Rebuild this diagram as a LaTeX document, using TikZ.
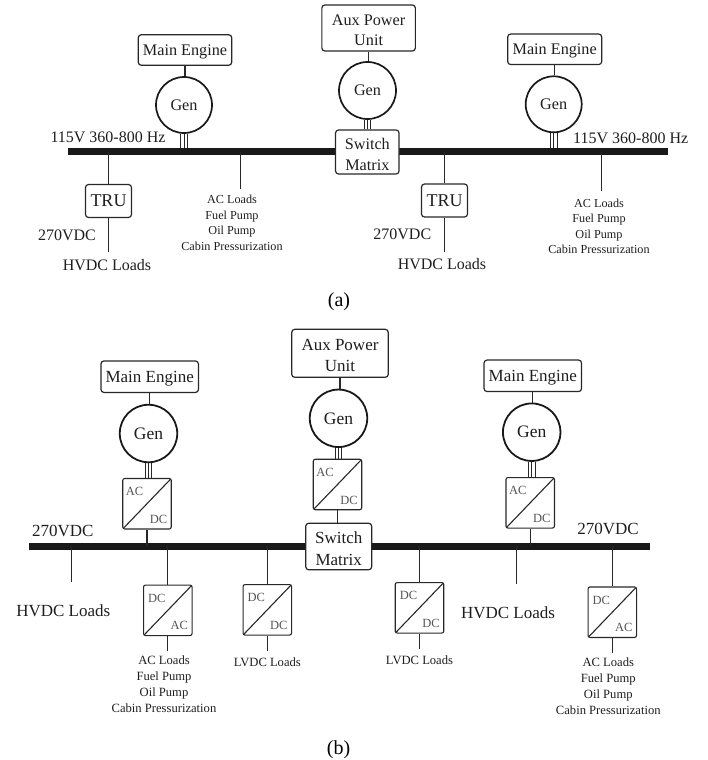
\documentclass[tikz,border=0pt]{standalone}
\usepackage{fontspec}
\setmainfont{Liberation Serif}
\usetikzlibrary{positioning, calc}
\definecolor{inkline}{RGB}{40, 40, 40}
\definecolor{inktext}{RGB}{30, 30, 30}
\definecolor{convtext}{RGB}{85, 85, 85}
\tikzstyle{block} = [rectangle, draw=inkline, text=inktext, rounded corners=3pt, align=center, inner sep=0pt, line width=1.2pt, text depth=0pt, font=\fontsize{16.2}{20.5}\selectfont]
\tikzstyle{blockb} = [block, font=\fontsize{17}{21.5}\selectfont]
\tikzstyle{gen} = [circle, draw=black!90, text=inktext, minimum size=56pt, inner sep=0pt, line width=1.7pt, font=\fontsize{16.2}{20}\selectfont]
\tikzstyle{genb} = [gen, minimum size=57.5pt, line width=1.8pt, font=\fontsize{17.5}{20}\selectfont]
\tikzstyle{bus} = [rectangle, fill=black!90, inner sep=0pt, minimum height=7pt]
\tikzstyle{conv} = [rectangle, draw=inkline, rounded corners=2pt, minimum width=48.5pt, minimum height=50.5pt, inner sep=0pt, line width=1.1pt, path picture={\draw[inkline, line width=1.1pt] (path picture bounding box.south west) -- (path picture bounding box.north east);}]
\tikzstyle{upperlabel} = [text=convtext, xshift=-12.5pt, yshift=12pt, font=\fontsize{12.5}{14}\selectfont]
\tikzstyle{lowerlabel} = [text=convtext, xshift=11.5pt, yshift=-15.5pt, font=\fontsize{12.5}{14}\selectfont]
\tikzstyle{wire} = [draw=inkline, line width=1.2pt]
\tikzstyle{thinwire} = [draw=inkline, line width=0.8pt]
\tikzstyle{caption} = [text=inktext, inner sep=0pt, font=\fontsize{16}{20}\selectfont]
\tikzstyle{captionb} = [caption, font=\fontsize{17}{20}\selectfont]
\tikzstyle{loads} = [text=inktext, align=center, inner sep=0pt, font=\fontsize{12.2}{15.5}\selectfont]
\tikzstyle{loadsb} = [loads, font=\fontsize{12.6}{16}\selectfont]
\tikzstyle{subfig} = [text=black, inner sep=0pt, font=\fontsize{20}{22}\selectfont]
\newcommand{\threephase}[2]{
    \draw[thinwire] ([xshift=-3.2pt]#1.south) -- ([xshift=-3.2pt]#1.south |- #2.north);
    \draw[thinwire] (#1.south) -- (#1.south |- #2.north);
    \draw[thinwire] ([xshift=3.2pt]#1.south) -- ([xshift=3.2pt]#1.south |- #2.north);
}
\begin{document}
\begin{tikzpicture}[x=1pt, y=-1pt]
    \useasboundingbox (0,0) rectangle (708,760);

    % (a) Bus
    \node[bus, minimum width=599.5pt] (busa) at (368.2, 151.7) {};

    % (a) Sources
    \node[block, minimum width=93.5pt, minimum height=30.5pt] (enginea) at (185, 50) {Main Engine};
    \node[gen] (gena) at (184, 105) {Gen};
    \node[block, minimum width=93.5pt, minimum height=46pt] (auxa) at (368.6, 28) {Aux Power\\Unit\vspace{-4pt}};
    \node[gen, minimum size=57pt] (genauxa) at (367.5, 90.5) {Gen};
    \node[block, fill=white, minimum width=63.5pt, minimum height=44pt, font=\fontsize{16.2}{21}\selectfont] (switcha) at (367.3, 152) {Switch\\Matrix\vspace{-5pt}};
    \node[block, minimum width=94pt, minimum height=30.5pt] (engineb) at (554.7, 49.3) {Main Engine};
    \node[gen] (genb) at (553.7, 104.3) {Gen};

    % (a) Rectifiers
    \node[block, minimum width=46pt, minimum height=33pt, font=\fontsize{18}{20}\selectfont] (trua) at (108.5, 201) {TRU};
    \node[block, minimum width=46pt, minimum height=33pt, font=\fontsize{18}{20}\selectfont] (trub) at (444.5, 200.5) {TRU};

    % (a) Labels
    \node[caption] (acbusa) at (108, 137) {115V 360-800 Hz};
    \node[caption] (acbusb) at (630.7, 138) {115V 360-800 Hz};
    \node[caption] (vdca) at (67, 235) {270VDC};
    \node[caption] (vdcb) at (402.3, 234) {270VDC};
    \node[caption] (hvdca) at (107, 265.5) {HVDC Loads};
    \node[caption] (hvdcb) at (442, 264.5) {HVDC Loads};
    \node[loads] (acloada) at (232, 223) {AC Loads\\Fuel Pump\\Oil Pump\\Cabin Pressurization};
    \node[loads] (acloadb) at (599, 226.5) {AC Loads\\Fuel Pump\\Oil Pump\\Cabin Pressurization};
    \node[subfig] (capa) at (339, 301.5) {(a)};

    % (a) Free ends
    \coordinate (enda) at (108.5, 252);
    \coordinate (endb) at (444.5, 251.5);
    \coordinate (endc) at (240.5, 189);
    \coordinate (endd) at (601.7, 190.5);

    % (a) Connectors
    \draw[wire] (enginea.south) -- (enginea.south |- gena.north);
    \draw[wire] (auxa.south) -- (auxa.south |- genauxa.north);
    \draw[wire] (engineb.south) -- (engineb.south |- genb.north);
    \threephase{gena}{busa}
    \threephase{genauxa}{switcha}
    \threephase{genb}{busa}
    \draw[wire] (trua.north |- busa) -- (trua.north);
    \draw[wire] (trua.south) -- (enda);
    \draw[wire] (trub.north |- busa) -- (trub.north);
    \draw[wire] (trub.south) -- (endb);
    \draw[wire] (endc |- busa) -- (endc);
    \draw[wire] (endd |- busa) -- (endd);

    % (b) Bus
    \node[bus, minimum width=621pt] (buscc) at (339.5, 546.3) {};

    % (b) Sources
    \node[blockb, minimum width=97.5pt, minimum height=31.5pt] (enginec) at (149.7, 376.7) {Main Engine};
    \node[genb] (genc) at (148.5, 433.5) {Gen};
    \node[blockb, minimum width=96.5pt, minimum height=48pt] (auxb) at (340, 353.3) {Aux Power\\Unit\vspace{-4pt}};
    \node[genb] (genauxb) at (338.5, 418.3) {Gen};
    \node[blockb, fill=white, minimum width=66pt, minimum height=46.5pt, font=\fontsize{17}{22}\selectfont] (switchb) at (338.7, 546.5) {Switch\\Matrix\vspace{-5pt}};
    \node[blockb, minimum width=97.5pt, minimum height=31.5pt] (engined) at (532.8, 375.8) {Main Engine};
    \node[genb] (gend) at (531.7, 432.2) {Gen};

    % (b) Converters
    \node[conv, label={[upperlabel]center:AC}, label={[lowerlabel]center:DC}] (convc) at (147, 503.7) {};
    \node[conv, label={[upperlabel]center:AC}, label={[lowerlabel]center:DC}] (convaux) at (337.5, 484.5) {};
    \node[conv, label={[upperlabel]center:AC}, label={[lowerlabel]center:DC}] (convd) at (530.2, 502.8) {};
    \node[conv, label={[upperlabel, xshift=1.5pt]center:DC}, label={[lowerlabel]center:AC}] (invc) at (167.8, 610.3) {};
    \node[conv, label={[upperlabel, xshift=1.5pt]center:DC}, label={[lowerlabel]center:DC}] (dcdcc) at (267.3, 609.8) {};
    \node[conv, label={[upperlabel, xshift=1.5pt]center:DC}, label={[lowerlabel]center:DC}] (dcdcd) at (419.5, 607.8) {};
    \node[conv, label={[upperlabel, xshift=1.5pt]center:DC}, label={[lowerlabel]center:AC}] (invd) at (612.3, 612.2) {};

    % (b) Labels
    \node[captionb] (vdcc) at (62.7, 530.7) {270VDC};
    \node[captionb] (vdcd) at (608, 528.7) {270VDC};
    \node[captionb] (hvdcc) at (63.3, 610.5) {HVDC Loads};
    \node[captionb] (hvdcd) at (508, 612.5) {HVDC Loads};
    \node[loadsb] (acloadc) at (164, 684.5) {AC Loads\\Fuel Pump\\Oil Pump\\Cabin Pressurization};
    \node[loadsb] (acloadd) at (608.3, 686.5) {AC Loads\\Fuel Pump\\Oil Pump\\Cabin Pressurization};
    \node[loadsb] (lvdcc) at (267.3, 662.3) {LVDC Loads};
    \node[loadsb] (lvdcd) at (419.5, 660) {LVDC Loads};
    \node[subfig] (capb) at (338.5, 749.5) {(b)};

    % (b) Free ends
    \coordinate (ende) at (71.4, 582.3);
    \coordinate (endf) at (516.4, 584.3);

    % (b) Connectors
    \draw[wire] (enginec.south) -- (enginec.south |- genc.north);
    \draw[wire] (auxb.south) -- (auxb.south |- genauxb.north);
    \draw[wire] (engined.south) -- (engined.south |- gend.north);
    \threephase{genc}{convc}
    \threephase{genauxb}{convaux}
    \threephase{gend}{convd}
    \draw[wire] (convc.south) -- (convc.south |- buscc);
    \draw[wire] (convaux.south) -- (convaux.south |- switchb.north);
    \draw[wire] (convd.south) -- (convd.south |- buscc);
    \draw[wire] (ende |- buscc) -- (ende);
    \draw[wire] (endf |- buscc) -- (endf);
    \draw[wire] (invc.north |- buscc) -- (invc.north);
    \draw[wire] (dcdcc.north |- buscc) -- (dcdcc.north);
    \draw[wire] (dcdcd.north |- buscc) -- (dcdcd.north);
    \draw[wire] (invd.north |- buscc) -- (invd.north);
    \draw[wire] (invc.south) -- ++(0, 15);
    \draw[wire] (dcdcc.south) -- ++(0, 15);
    \draw[wire] (dcdcd.south) -- ++(0, 15);
    \draw[wire] (invd.south) -- ++(0, 15);
\end{tikzpicture}
\end{document}
